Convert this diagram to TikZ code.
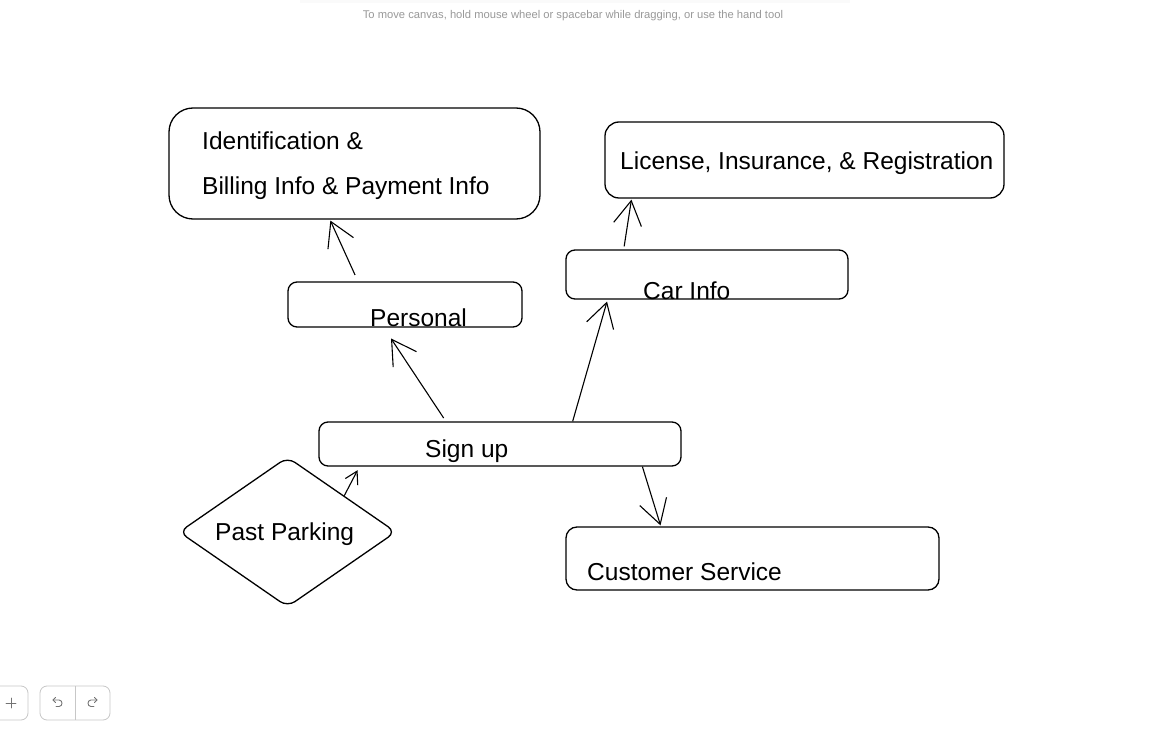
\documentclass[tikz,border=0pt]{standalone}
\usepackage{fontspec}
\setmainfont{Liberation Sans}
\usetikzlibrary{arrows.meta,shapes.geometric,calc}

\tikzset{
  box/.style={draw, line width=1.3pt, rounded corners=9pt, inner sep=0pt},
  lbl/.style={anchor=base west, inner sep=0pt, font=\fontsize{24.5}{28}\selectfont},
  arr/.style={line width=1.1pt, -{Straight Barb[length=24pt,width=28pt,line width=1.1pt]}},
  arrsmall/.style={line width=1.1pt, -{Straight Barb[length=12pt,width=14pt,line width=1.1pt]}},
  uibtn/.style={draw=black!22, line width=0.8pt, rounded corners=7pt},
  uiicon/.style={draw=black!55, line width=0.9pt, line cap=round, line join=round}
}

\begin{document}
\begin{tikzpicture}[x=1pt,y=-1pt]

    % white page
    \useasboundingbox[fill=white] (0,0) rectangle (1157,735);

    % canvas hint
    \fill[black!2] (300,-4) rectangle (850,3);
    \node[font=\fontsize{11.2}{13}\selectfont, text=black!40] (hint) at (573,16)
        {To move canvas, hold mouse wheel or spacebar while dragging, or use the hand tool};

    % boxes
    \node[box, rounded corners=24pt, minimum width=371pt, minimum height=111pt] (ident) at (354.5,163.5) {};
    \node[box, rounded corners=14pt, minimum width=399pt, minimum height=76pt] (license) at (804.5,160) {};
    \node[box, minimum width=234pt, minimum height=45pt] (personal) at (405,304.5) {};
    \node[box, minimum width=282pt, minimum height=49pt] (car) at (707,274.5) {};
    \node[box, minimum width=362pt, minimum height=44pt] (signup) at (500,444) {};
    \node[box, rounded corners=11pt, minimum width=373pt, minimum height=63pt] (service) at (752.5,558.5) {};
    \node[draw, diamond, line width=1.3pt, rounded corners=9pt, inner sep=0pt,
          minimum width=217pt, minimum height=150pt] (past) at (287.5,532) {};

    % labels
    \node[lbl] (identtext) at (202,150) {Identification \&};
    \node[lbl] (billtext) at (202,195) {Billing Info \& Payment Info};
    \node[lbl] (licensetext) at (620,170) {License, Insurance, \& Registration};
    \node[lbl] (personaltext) at (370,327) {Personal};
    \node[lbl] (cartext) at (643,300) {Car Info};
    \node[lbl] (signuptext) at (425,457) {Sign up};
    \node[lbl] (pasttext) at (215,540) {Past Parking};
    \node[lbl] (servicetext) at (587,580) {Customer Service};

    % connectors
    \draw[arr, shorten <=7pt, shorten >=1pt]
        ($(personal.north west)!0.30!(personal.north east)$) -- ($(ident.south west)!0.434!(ident.south east)$);
    \draw[arr, shorten <=4pt, shorten >=13pt]
        ($(signup.north west)!0.351!(signup.north east)$) -- ($(personal.south west)!0.41!(personal.south east)$);
    \draw[arr, shorten >=2pt]
        ($(signup.north west)!0.70!(signup.north east)$) -- ($(car.south west)!0.149!(car.south east)$);
    \draw[arr, shorten <=3pt, shorten >=1pt]
        ($(car.north west)!0.206!(car.north east)$) -- ($(license.south west)!0.068!(license.south east)$);
    \draw[arrsmall, shorten <=0pt, shorten >=4pt]
        ($(past.north)!0.52!(past.east)$) -- ($(signup.south west)!0.113!(signup.south east)$);
    \draw[arr, shorten >=1pt]
        ($(signup.south west)!0.892!(signup.south east)$) -- ($(service.north west)!0.255!(service.north east)$);

    % toolbar
    \draw[uibtn] (-12,686) rectangle (28,720);
    \draw[uiicon] (6,703) -- (16,703) (11,698) -- (11,708);
    \draw[uibtn] (40,686) rectangle (110,720);
    \draw[black!22, line width=0.8pt] (75,686) -- (75,720);
    % undo
    \draw[uiicon] (53,700) -- (59,700) .. controls (63,700) and (63,706.5) .. (59,706.5) -- (56,706.5);
    \draw[uiicon] (55.5,697.5) -- (53,700) -- (55.5,702.5);
    % redo
    \draw[uiicon] (97,700) -- (91,700) .. controls (87,700) and (87,706.5) .. (91,706.5) -- (94,706.5);
    \draw[uiicon] (94.5,697.5) -- (97,700) -- (94.5,702.5);

\end{tikzpicture}
\end{document}
